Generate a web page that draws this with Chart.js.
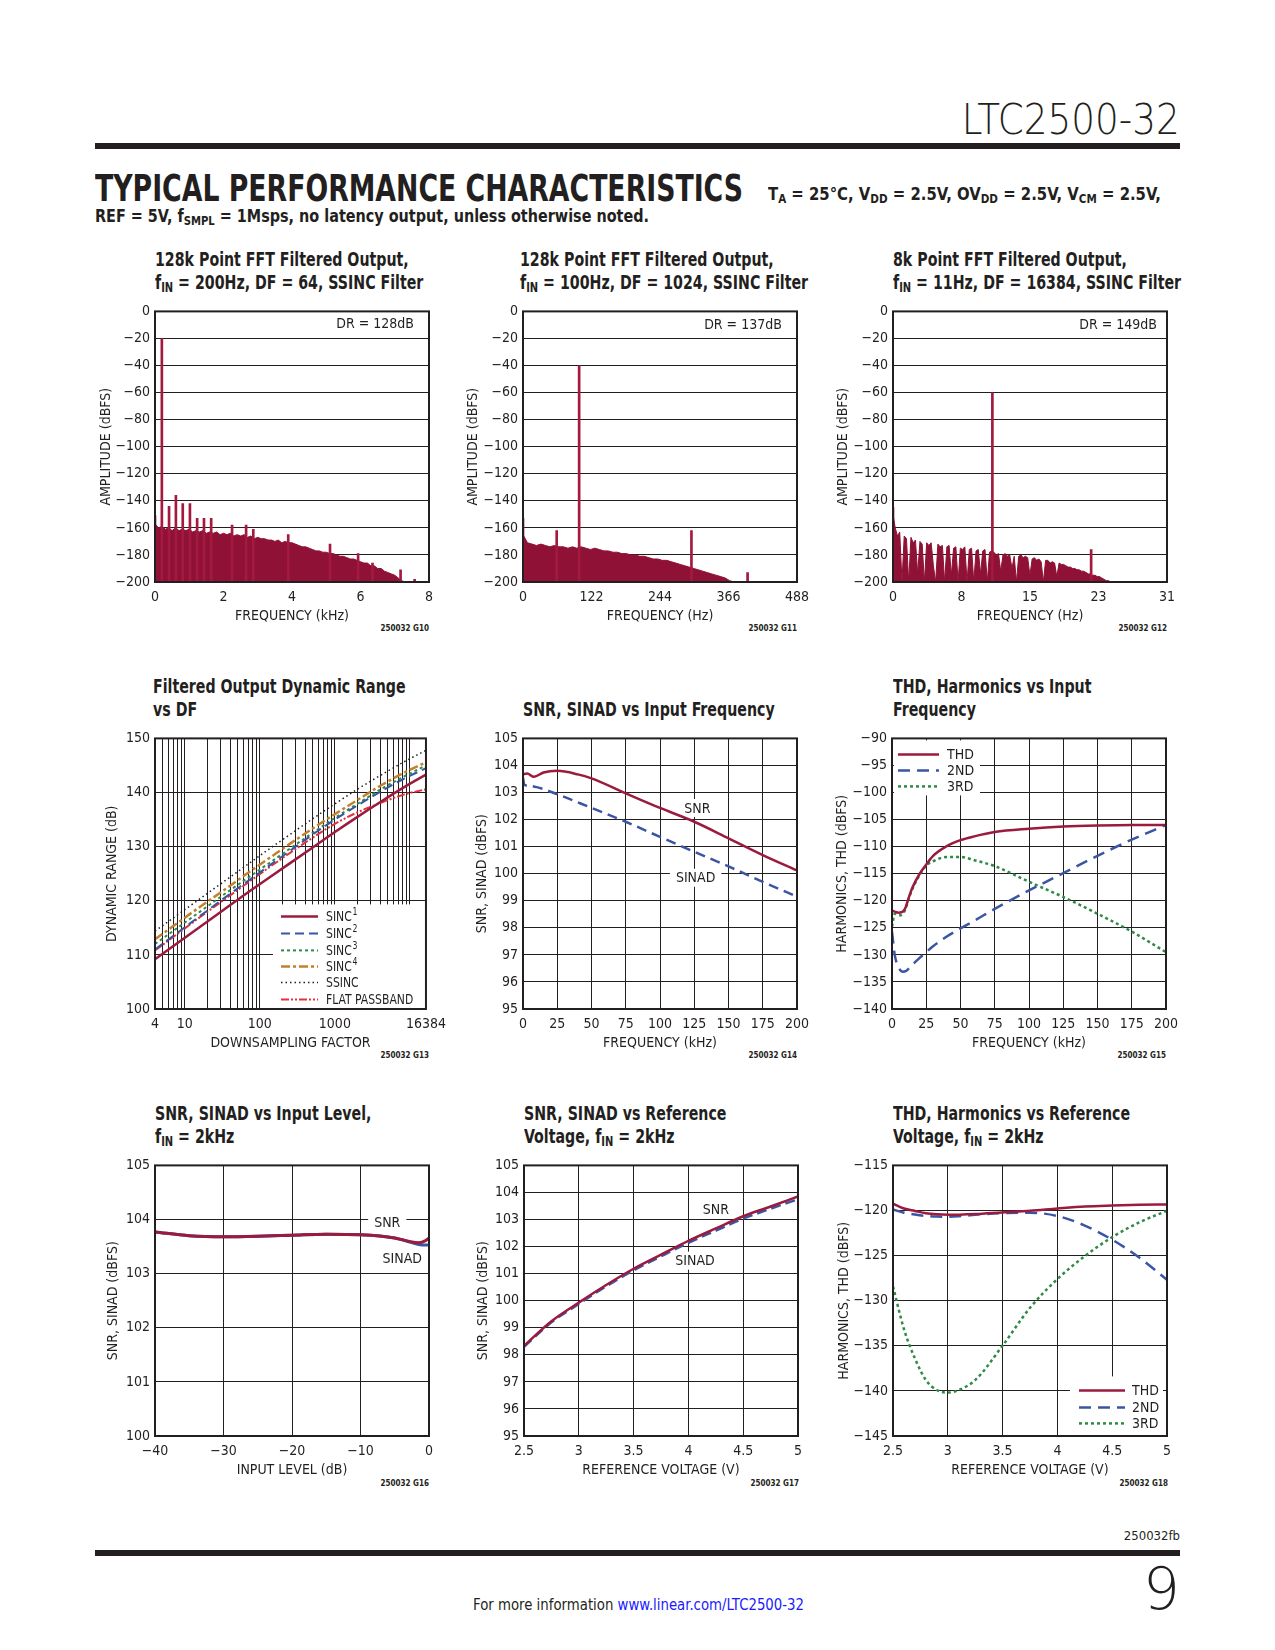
<!DOCTYPE html>
<html>
<head>
<meta charset="utf-8">
<script src="https://cdn.jsdelivr.net/npm/chart.js@4.4.1/dist/chart.umd.min.js"></script>
<style>
  body { margin: 0; background: #fff; }
  #page { position: relative; width: 1275px; height: 1650px; overflow: hidden; color: #231f20;
          font-family: "Liberation Sans Narrow", "DejaVu Sans Condensed", sans-serif; }
  .abs { position: absolute; white-space: nowrap; }
  .rule { position: absolute; left: 95px; width: 1085px; height: 6px; background: #231f20; }
  .ttl { font-weight: bold; font-size: 19px; line-height: 23px; transform: scaleX(0.83); transform-origin: left top; }
  .light { font-family: "DejaVu Sans", sans-serif; font-weight: 200; }
  sub { font-size: 0.7em; vertical-align: -0.25em; line-height: 0; }
  .code { font-size: 8px; font-weight: bold; line-height: 10px; }
  canvas { position: absolute; }
</style>
</head>
<body>
<div id="page">
  <div class="abs light fitr" data-w="218" style="right:95px;top:99px;font-size:42px;line-height:42px;">LTC2500-32</div>
  <div class="rule" style="top:143px"></div>
  <div class="abs fit" data-w="648" style="left:95px;top:169px;font-family:'DejaVu Sans Condensed',sans-serif;font-weight:bold;font-size:38px;line-height:38px;">TYPICAL PERFORMANCE CHARACTERISTICS</div>
  <div class="abs fit" data-w="393" style="left:768px;top:184px;font-weight:bold;font-size:17px;line-height:20px;">T<sub>A</sub> = 25°C, V<sub>DD</sub> = 2.5V, OV<sub>DD</sub> = 2.5V, V<sub>CM</sub> = 2.5V,</div>
  <div class="abs fit" data-w="554" style="left:95px;top:206px;font-weight:bold;font-size:17px;line-height:20px;">REF = 5V, f<sub>SMPL</sub> = 1Msps, no latency output, unless otherwise noted.</div>

  <div class="abs ttl" style="left:155px;top:248px;">128k Point FFT Filtered Output,<br>f<sub>IN</sub> = 200Hz, DF = 64, SSINC Filter</div>
  <div class="abs ttl" style="left:520px;top:248px;">128k Point FFT Filtered Output,<br>f<sub>IN</sub> = 100Hz, DF = 1024, SSINC Filter</div>
  <div class="abs ttl" style="left:893px;top:248px;">8k Point FFT Filtered Output,<br>f<sub>IN</sub> = 11Hz, DF = 16384, SSINC Filter</div>
  <div class="abs ttl" style="left:153px;top:675px;">Filtered Output Dynamic Range<br>vs DF</div>
  <div class="abs ttl" style="left:523px;top:698px;">SNR, SINAD vs Input Frequency</div>
  <div class="abs ttl" style="left:893px;top:675px;">THD, Harmonics vs Input<br>Frequency</div>
  <div class="abs ttl" style="left:155px;top:1102px;">SNR, SINAD vs Input Level,<br>f<sub>IN</sub> = 2kHz</div>
  <div class="abs ttl" style="left:524px;top:1102px;">SNR, SINAD vs Reference<br>Voltage, f<sub>IN</sub> = 2kHz</div>
  <div class="abs ttl" style="left:893px;top:1102px;">THD, Harmonics vs Reference<br>Voltage, f<sub>IN</sub> = 2kHz</div>

  <div class="abs code" style="right:846px;top:624px;">250032 G10</div>
  <div class="abs code" style="right:478px;top:624px;">250032 G11</div>
  <div class="abs code" style="right:108px;top:624px;">250032 G12</div>
  <div class="abs code" style="right:846px;top:1051px;">250032 G13</div>
  <div class="abs code" style="right:478px;top:1051px;">250032 G14</div>
  <div class="abs code" style="right:109px;top:1051px;">250032 G15</div>
  <div class="abs code" style="right:846px;top:1479px;">250032 G16</div>
  <div class="abs code" style="right:476px;top:1479px;">250032 G17</div>
  <div class="abs code" style="right:107px;top:1479px;">250032 G18</div>

  <div class="abs" style="right:95px;top:1528px;font-size:13px;line-height:16px;">250032fb</div>
  <div class="rule" style="top:1550px"></div>
  <div class="abs light" style="right:95px;top:1560px;font-size:58px;line-height:58px;">9</div>
  <div class="abs fit" data-w="331" style="left:473px;top:1596px;font-size:16px;line-height:18px;">For more information <span style="color:#1a1aff">www.linear.com/LTC2500-32</span></div>

  <canvas id="c1" width="368" height="334" style="left:85px;top:298px"></canvas>
  <canvas id="c2" width="368" height="334" style="left:453px;top:298px"></canvas>
  <canvas id="c3" width="368" height="334" style="left:823px;top:298px"></canvas>
  <canvas id="c4" width="368" height="334" style="left:85px;top:725px"></canvas>
  <canvas id="c5" width="368" height="334" style="left:453px;top:725px"></canvas>
  <canvas id="c6" width="368" height="334" style="left:822px;top:725px"></canvas>
  <canvas id="c7" width="368" height="334" style="left:85px;top:1152px"></canvas>
  <canvas id="c8" width="368" height="334" style="left:454px;top:1152px"></canvas>
  <canvas id="c9" width="368" height="334" style="left:823px;top:1152px"></canvas>
</div>

<script>
// ---- data ----

// G10: 128k FFT, fIN = 200Hz, DF = 64 (kHz, dBFS)
const binStep1 = 0.1;
const noise1 = [
  -157, -160, -159, -161, -160, -162, -160, -162, -161, -162,
  -161, -163, -162, -163, -162, -164, -163, -164, -163, -165,
  -164, -165, -164, -166, -165, -166, -165, -167, -166, -168,
  -167, -168, -168, -169, -169, -170, -169, -171, -170, -171,
  -171, -172, -173, -174, -174, -175, -176, -177, -177, -178,
  -178, -179, -179, -180, -181, -181, -182, -183, -183, -184,
  -185, -186, -186, -188, -188, -190, -190, -192, -193, -194,
  -195, -197, -199, -200];
const spikeF1 = [0, 0.2, 0.41, 0.61, 0.81, 1.02, 1.23, 1.43, 1.64, 2.25, 2.66, 2.87, 3.89, 5.11, 5.93, 6.35, 7.17, 7.58];
const spikeA1 = [-151, -20, -144, -136, -142, -142, -153, -153, -153, -158, -158, -161, -165, -172, -179, -186, -191, -198];

// G11: 128k FFT, fIN = 100Hz, DF = 1024 (Hz, dBFS)
const binStep2 = 8;
const noise2 = [
  -165, -171, -172, -173, -172, -173, -174, -173, -174, -174,
  -175, -174, -175, -174, -175, -176, -175, -176, -177, -177,
  -178, -178, -179, -179, -180, -180, -181, -181, -182, -183,
  -183, -184, -184, -185, -186, -187, -188, -189, -190, -191,
  -192, -193, -194, -195, -196, -197, -199, -200];
const spikeF2 = [0, 60, 100, 300, 400];
const spikeA2 = [-153, -162, -40, -162, -193];

// G12: 8k FFT, fIN = 11Hz, DF = 16384 (Hz, dBFS)
const binStep3 = 0.25;
const noise3 = [
  -150, -160, -166, -163, -200, -166, -168, -200, -167, -171,
  -169, -194, -170, -172, -200, -171, -173, -171, -188, -200,
  -172, -174, -173, -200, -174, -173, -195, -175, -174, -200,
  -175, -176, -174, -200, -176, -175, -200, -177, -176, -194,
  -177, -176, -200, -178, -177, -178, -180, -179, -192, -180,
  -179, -181, -180, -190, -181, -200, -181, -180, -182, -181,
  -182, -195, -183, -182, -184, -183, -185, -200, -184, -184,
  -186, -185, -186, -196, -186, -187, -187, -188, -189, -189,
  -190, -190, -191, -191, -192, -192, -193, -194, -194, -195,
  -195, -196, -196, -197, -198, -199, -199, -200, -200];
const spikeF3 = [0, 11.07, 22.07];
const spikeA3 = [-145, -60, -176];
const xTicks3 = [0, 7.63, 15.26, 22.89, 30.52];
const xLabels3 = ['0', '8', '15', '23', '31'];

// G13: dynamic range vs downsampling factor
const df4 = [4, 8, 16, 32, 64, 128, 256, 512, 1024, 2048, 4096, 8192, 16384];
const sinc1 = [109.2, 112.2, 115.2, 118.2, 121.2, 124.1, 127.0, 129.9, 132.8, 135.6, 138.3, 140.9, 143.3];
const sinc2 = [111.0, 114.1, 117.2, 120.3, 123.3, 126.3, 129.3, 132.3, 135.1, 137.7, 140.2, 142.5, 144.5];
const sinc3 = [112.0, 115.0, 118.0, 121.0, 123.9, 126.8, 129.7, 132.6, 135.4, 138.0, 140.6, 142.9, 145.0];
const sinc4 = [112.9, 115.9, 118.9, 121.8, 124.8, 127.7, 130.6, 133.4, 136.1, 138.7, 141.3, 143.6, 145.6];
const ssinc = [114.4, 117.4, 120.4, 123.4, 126.4, 129.4, 132.3, 135.2, 138.0, 140.7, 143.2, 145.6, 147.8];
const flatPass = [110.8, 113.9, 117.0, 120.0, 123.0, 126.0, 128.9, 131.7, 134.3, 136.4, 138.1, 139.6, 140.6];
const dfGrid = [4, 5, 6, 7, 8, 9, 10, 20, 30, 40, 50, 60, 70, 80, 90, 100, 200, 300, 400, 500, 600, 700, 800, 900,
  1000, 2000, 3000, 4000, 5000, 6000, 7000, 8000, 9000, 10000, 16384];
const dfLabels = [4, 10, 100, 1000, 16384];

// G14: SNR, SINAD vs input frequency (kHz)
const freq5 = [0, 3, 8, 15, 25, 40, 50, 75, 100, 125, 150, 175, 200];
const snr5 = [103.67, 103.70, 103.58, 103.74, 103.80, 103.67, 103.52, 102.97, 102.43, 101.92, 101.31, 100.69, 100.12];
const freq5b = [0, 1, 3, 10, 25, 50, 75, 100, 125, 150, 175, 200];
const sinad5 = [103.55, 103.28, 103.26, 103.2, 102.94, 102.43, 101.92, 101.36, 100.81, 100.27, 99.7, 99.15];

// G15: THD, harmonics vs input frequency (kHz)
const freq6 = [0, 2, 5, 8, 10, 12, 15, 20, 25, 30, 40, 50, 60, 75, 100, 125, 150, 175, 200];
const thd6 = [-121.8, -122.0, -122.2, -122.0, -121.2, -119.6, -117.5, -115.1, -113.3, -111.7, -109.9, -108.8, -108.1, -107.3, -106.7, -106.3, -106.1, -106.0, -106.0];
const h2nd6 = [-125.7, -130.0, -132.4, -133.1, -133.0, -132.6, -131.8, -130.6, -129.5, -128.4, -126.6, -125.1, -123.7, -121.5, -118.1, -114.9, -111.7, -108.7, -106.0];
const h3rd6 = [-124.8, -122.4, -122.7, -122.4, -121.4, -119.8, -117.8, -115.3, -113.5, -112.7, -111.9, -111.9, -112.5, -113.6, -116.5, -119.3, -122.4, -125.7, -129.5];

// G16: SNR, SINAD vs input level (dB)
const level7 = [-40, -35, -30, -25, -20, -15, -10, -5, -3, -1.5, -0.5, 0];
const snr7 = [103.77, 103.70, 103.68, 103.69, 103.71, 103.73, 103.72, 103.66, 103.60, 103.57, 103.61, 103.66];
const sinad7 = [103.77, 103.70, 103.68, 103.69, 103.71, 103.73, 103.72, 103.66, 103.59, 103.54, 103.53, 103.53];

// G17: SNR, SINAD vs reference voltage (V)
const vref8 = [2.5, 2.75, 3, 3.25, 3.5, 3.75, 4, 4.25, 4.5, 4.75, 5];
const snr8 = [98.33, 99.24, 99.93, 100.58, 101.18, 101.7, 102.21, 102.67, 103.12, 103.48, 103.85];
const sinad8 = [98.3, 99.2, 99.88, 100.53, 101.12, 101.64, 102.14, 102.59, 103.03, 103.4, 103.75];

// G18: THD, harmonics vs reference voltage (V)
const vref9 = [2.5, 2.6, 2.7, 2.8, 2.9, 3.0, 3.1, 3.25, 3.5, 3.75, 4.0, 4.25, 4.5, 4.75, 5.0];
const thd9 = [-119.23, -119.78, -120.05, -120.3, -120.42, -120.47, -120.46, -120.4, -120.21, -120.03, -119.78, -119.56, -119.45, -119.37, -119.34];
const h2nd9 = [-119.89, -120.25, -120.45, -120.6, -120.67, -120.69, -120.64, -120.47, -120.29, -120.25, -120.61, -121.67, -123.24, -125.24, -127.69];
const h3rd9 = [-128.42, -133.15, -136.4, -138.8, -139.9, -140.19, -139.9, -138.8, -134.98, -130.79, -127.6, -125.06, -122.95, -121.3, -120.03];

// ---- styling ----
const INK = '#231f20';
const CRIMSON = '#9b1b3e';
const FFT_FILL = '#8f1236';
const FFT_SPIKE = '#a3193f';
const BLUE = '#3b55a5';
const GREEN = '#2f8a47';
const ORANGE = '#c4802f';
const RED = '#e3323d';
const FONT = '"Liberation Sans Narrow", "DejaVu Sans Condensed", sans-serif';

Chart.defaults.font.family = FONT;
Chart.defaults.font.size = 14;
Chart.defaults.color = INK;
Chart.defaults.animation = false;

const minus = v => (v < 0 ? '\u2212' + Math.abs(v) : String(v));
const pts = (xs, ys) => xs.map((x, i) => ({ x, y: ys[i] }));

function xAxis(o) {
  return {
    type: o.type || 'linear', min: o.min, max: o.max, offset: false,
    grid: { display: o.grid !== false, color: INK, lineWidth: 1, drawTicks: false },
    border: { display: false },
    ticks: { stepSize: o.step, padding: 7, autoSkip: false, maxRotation: 0, color: INK,
             callback: o.label || (v => minus(+(+v).toFixed(2))) },
    title: { display: true, text: o.title, color: INK, font: { size: 14 }, padding: { top: 0, bottom: 7.6 } },
    afterBuildTicks: o.ticks ? s => { s.ticks = o.ticks.map(v => ({ value: v })); } : undefined,
    afterFit: s => { s.height = 50; }
  };
}

function yAxis(o) {
  return {
    min: o.min, max: o.max,
    grid: { color: INK, lineWidth: 1, drawTicks: false },
    border: { display: false },
    ticks: { stepSize: o.step, padding: 5, autoSkip: false, color: INK, callback: v => minus(v) },
    title: { display: true, text: o.title, color: INK, font: { size: 14 }, padding: { top: 70 - o.gap - 8.4, bottom: 0 } },
    afterFit: s => { s.width = 70; }
  };
}

function curve(label, xs, ys, color, width, dash) {
  return { type: 'line', label, data: pts(xs, ys), borderColor: color, backgroundColor: color,
           borderWidth: width, borderDash: dash || [], pointRadius: 0, fill: false,
           cubicInterpolationMode: 'monotone' };
}

function fftSets(noise, step, spikeF, spikeA, floor) {
  return [
    { type: 'bar', label: 'tones', data: spikeF.map((f, i) => ({ x: f, y: [floor, spikeA[i]] })),
      backgroundColor: FFT_SPIKE, barThickness: 2, grouped: false },
    { type: 'line', label: 'noise', data: noise.map((a, i) => ({ x: i * step, y: a })),
      borderColor: FFT_FILL, backgroundColor: FFT_FILL, borderWidth: 1, pointRadius: 0,
      fill: 'start', tension: 0 }
  ];
}

// notes, inline legends and the plot frame
const pagePlugin = {
  id: 'page',
  beforeDatasetsDraw(chart, args, opts) {
    const ctx = chart.ctx, a = chart.chartArea;
    const sx = chart.scales.x, sy = chart.scales.y;
    ctx.save();
    ctx.textBaseline = 'middle';
    const lg = opts.legend;
    if (lg) {
      const sq = lg.squeeze || 1;
      ctx.fillStyle = '#fff';
      ctx.fillRect(a.left + lg.box[0], a.top + lg.box[1], lg.box[2] - lg.box[0], lg.box[3] - lg.box[1]);
      lg.items.forEach((it, i) => {
        const ds = chart.data.datasets[it.ds];
        const y = a.top + lg.rows[i];
        ctx.beginPath();
        ctx.setLineDash(it.dash || ds.borderDash || []);
        ctx.lineWidth = ds.borderWidth;
        ctx.strokeStyle = ds.borderColor;
        ctx.moveTo(a.left + lg.line[0], y);
        ctx.lineTo(a.left + lg.line[1], y);
        ctx.stroke();
        ctx.setLineDash([]);
        ctx.save();
        ctx.translate(a.left + lg.text, y + 1);
        ctx.scale(sq, 1);
        ctx.fillStyle = INK;
        ctx.textAlign = 'left';
        ctx.font = '14px ' + FONT;
        ctx.fillText(it.text, 0, 0);
        if (it.sup) {
          const w = ctx.measureText(it.text).width;
          ctx.font = '10px ' + FONT;
          ctx.fillText(it.sup, w + 1, -5);
        }
        ctx.restore();
      });
    }
    (opts.notes || []).forEach(n => {
      const px = sx.getPixelForValue(n.x), py = sy.getPixelForValue(n.y);
      ctx.font = '14px ' + FONT;
      ctx.textAlign = n.align || 'center';
      const w = ctx.measureText(n.text).width;
      if (n.bg) {
        const x0 = n.align === 'right' ? px - w : n.align === 'left' ? px : px - w / 2;
        ctx.fillStyle = '#fff';
        ctx.fillRect(x0 - 6, py - 9, w + 12, 18);
      }
      ctx.fillStyle = INK;
      ctx.fillText(n.text, px, py + 1);
    });
    ctx.restore();
  },
  afterDatasetsDraw(chart) {
    const ctx = chart.ctx, a = chart.chartArea;
    ctx.save();
    ctx.strokeStyle = INK;
    ctx.lineWidth = 2;
    ctx.setLineDash([]);
    ctx.strokeRect(a.left, a.top, a.right - a.left, a.bottom - a.top);
    ctx.restore();
  }
};

function make(id, datasets, scales, page) {
  return new Chart(document.getElementById(id), {
    type: 'line',
    data: { datasets },
    options: {
      responsive: false, devicePixelRatio: 1, animation: false,
      layout: { padding: { top: 10, right: 24, left: 0, bottom: 0 } },
      plugins: { legend: { display: false }, tooltip: { enabled: false }, page: page || {} },
      scales
    },
    plugins: [pagePlugin]
  });
}

// G10
make('c1', fftSets(noise1, binStep1, spikeF1, spikeA1, -200), {
  x: xAxis({ min: 0, max: 8, step: 2, grid: false, title: 'FREQUENCY (kHz)' }),
  y: yAxis({ min: -200, max: 0, step: 20, title: 'AMPLITUDE (dBFS)', gap: 49 })
}, { notes: [{ x: 7.56, y: -8.8, text: 'DR = 128dB', align: 'right' }] });

// G11
make('c2', fftSets(noise2, binStep2, spikeF2, spikeA2, -200), {
  x: xAxis({ min: 0, max: 488, step: 122, grid: false, title: 'FREQUENCY (Hz)' }),
  y: yAxis({ min: -200, max: 0, step: 20, title: 'AMPLITUDE (dBFS)', gap: 50 })
}, { notes: [{ x: 461, y: -9.3, text: 'DR = 137dB', align: 'right' }] });

// G12
make('c3', fftSets(noise3, binStep3, spikeF3, spikeA3, -200), {
  x: xAxis({ min: 0, max: 30.52, ticks: xTicks3, grid: false, title: 'FREQUENCY (Hz)',
             label: (v, i) => xLabels3[i] }),
  y: yAxis({ min: -200, max: 0, step: 20, title: 'AMPLITUDE (dBFS)', gap: 50 })
}, { notes: [{ x: 29.4, y: -9.3, text: 'DR = 149dB', align: 'right' }] });

// G13
make('c4', [
  curve('SINC1', df4, sinc1, CRIMSON, 2.5),
  curve('SINC2', df4, sinc2, BLUE, 2, [9, 5]),
  curve('SINC3', df4, sinc3, GREEN, 2, [3, 3]),
  curve('SINC4', df4, sinc4, ORANGE, 2.5, [9, 3, 3, 3]),
  curve('SSINC', df4, ssinc, INK, 1.5, [1.5, 3]),
  curve('FLAT PASSBAND', df4, flatPass, RED, 2, [8, 2, 2, 2, 2, 2])
], {
  x: xAxis({ type: 'logarithmic', min: 4, max: 16384, ticks: dfGrid, title: 'DOWNSAMPLING FACTOR',
             label: v => (dfLabels.includes(v) ? String(v) : '') }),
  y: yAxis({ min: 100, max: 150, step: 10, title: 'DYNAMIC RANGE (dB)', gap: 43 })
}, {
  legend: {
    box: [118, 166, 272, 272], line: [126, 163], text: 171, squeeze: 0.86,
    rows: [178, 195, 212, 228, 244, 261],
    items: [
      { ds: 0, text: 'SINC', sup: '1', dash: [] },
      { ds: 1, text: 'SINC', sup: '2' },
      { ds: 2, text: 'SINC', sup: '3' },
      { ds: 3, text: 'SINC', sup: '4' },
      { ds: 4, text: 'SSINC' },
      { ds: 5, text: 'FLAT PASSBAND' }
    ]
  }
});

// G14
make('c5', [
  curve('SNR', freq5, snr5, CRIMSON, 2.5),
  curve('SINAD', freq5b, sinad5, BLUE, 2.5, [10, 6])
], {
  x: xAxis({ min: 0, max: 200, step: 25, title: 'FREQUENCY (kHz)' }),
  y: yAxis({ min: 95, max: 105, step: 1, title: 'SNR, SINAD (dBFS)', gap: 41 })
}, { notes: [
  { x: 127.3, y: 102.43, text: 'SNR', bg: true },
  { x: 126, y: 99.85, text: 'SINAD', bg: true }
] });

// G15
make('c6', [
  curve('THD', freq6, thd6, CRIMSON, 2.5),
  curve('2ND', freq6, h2nd6, BLUE, 2.5, [12, 7]),
  curve('3RD', freq6, h3rd6, GREEN, 2.5, [3, 3])
], {
  x: xAxis({ min: 0, max: 200, step: 25, title: 'FREQUENCY (kHz)' }),
  y: yAxis({ min: -140, max: -90, step: 5, title: 'HARMONICS, THD (dBFS)', gap: 50 })
}, {
  legend: {
    box: [2, 2, 88, 57], line: [6, 47], text: 55, rows: [16, 32, 48],
    items: [{ ds: 0, text: 'THD' }, { ds: 1, text: '2ND' }, { ds: 2, text: '3RD' }]
  }
});

// G16
make('c7', [
  curve('SNR', level7, snr7, CRIMSON, 3),
  curve('SINAD', level7, sinad7, BLUE, 3)
], {
  x: xAxis({ min: -40, max: 0, step: 10, title: 'INPUT LEVEL (dB)' }),
  y: yAxis({ min: 100, max: 105, step: 1, title: 'SNR, SINAD (dBFS)', gap: 42 })
}, { notes: [
  { x: -6.1, y: 103.95, text: 'SNR', bg: true },
  { x: -3.9, y: 103.28, text: 'SINAD' }
] });

// G17
make('c8', [
  curve('SNR', vref8, snr8, CRIMSON, 2.5),
  curve('SINAD', vref8, sinad8, BLUE, 2.5, [10, 5])
], {
  x: xAxis({ min: 2.5, max: 5, step: 0.5, title: 'REFERENCE VOLTAGE (V)' }),
  y: yAxis({ min: 95, max: 105, step: 1, title: 'SNR, SINAD (dBFS)', gap: 41 })
}, { notes: [
  { x: 4.25, y: 103.36, text: 'SNR' },
  { x: 4.06, y: 101.48, text: 'SINAD', bg: true }
] });

// G18
make('c9', [
  curve('THD', vref9, thd9, CRIMSON, 2.5),
  curve('2ND', vref9, h2nd9, BLUE, 2.5, [12, 7]),
  curve('3RD', vref9, h3rd9, GREEN, 2.5, [3, 3])
], {
  x: xAxis({ min: 2.5, max: 5, step: 0.5, title: 'REFERENCE VOLTAGE (V)' }),
  y: yAxis({ min: -145, max: -115, step: 5, title: 'HARMONICS, THD (dBFS)', gap: 49 })
}, {
  legend: {
    box: [177, 211, 270, 273], line: [186, 232], text: 239, rows: [225, 242, 258],
    items: [{ ds: 0, text: 'THD' }, { ds: 1, text: '2ND' }, { ds: 2, text: '3RD' }]
  }
});

// squeeze the header lines to the reference widths
document.querySelectorAll('.fit, .fitr').forEach(el => {
  const w = el.getBoundingClientRect().width;
  el.style.transformOrigin = el.classList.contains('fitr') ? 'right center' : 'left center';
  el.style.transform = 'scaleX(' + (+el.dataset.w / w) + ')';
});
</script>
</body>
</html>
